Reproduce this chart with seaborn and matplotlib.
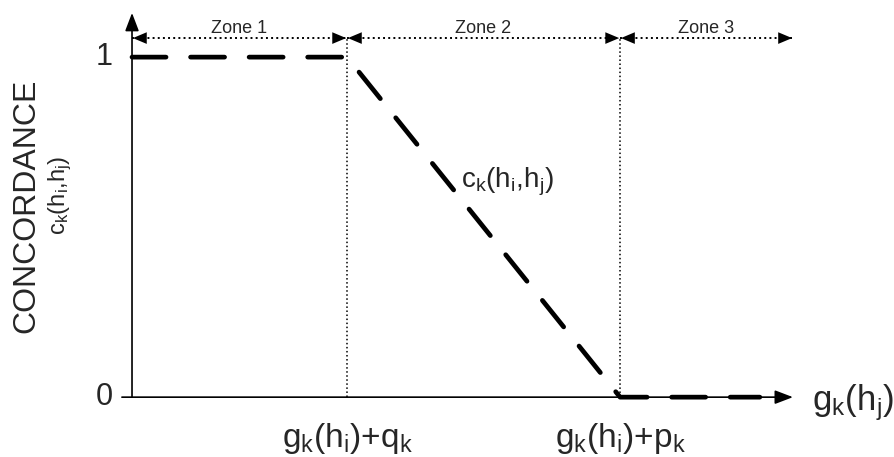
import matplotlib
matplotlib.use('Agg')
import matplotlib.pyplot as plt
import seaborn as sns
import pandas as pd

# concordance function c_k(h_i, h_j) (x in units of q_k)
q_k = 1.0
p_k = 2.27
x_end = 2.92
x_axis_end = 3.074
conc_x = [0.0, q_k, p_k, x_end]
conc_y = [1.0, 1.0, 0.0, 0.0]

zone_labels = ['Zone 1', 'Zone 2', 'Zone 3']
zone_edges = [0.0, q_k, p_k, x_axis_end]
x_ticks = [q_k, p_k]
x_tick_labels = [r'$\mathregular{g_k(h_i){+}q_k}$', r'$\mathregular{g_k(h_i){+}p_k}$']
y_ticks = [0, 1]


def main():
    sns.set_style('white')
    plt.rcParams['font.family'] = ['Liberation Sans', 'DejaVu Sans']
    plt.rcParams['mathtext.fontset'] = 'custom'
    plt.rcParams['mathtext.rm'] = 'Liberation Sans'
    plt.rcParams['mathtext.it'] = 'Liberation Sans'

    fig = plt.figure(figsize=(8.94, 4.57), dpi=100)
    ax = fig.add_axes([0, 0, 1, 1])
    ax.set_xlim(-0.614, 3.544)
    ax.set_ylim(-0.176, 1.168)
    ax.axis('off')

    head = '-|>,head_length=1.1,head_width=0.42'
    # axes with arrows
    ax.annotate('', xy=(x_axis_end, 0), xytext=(-0.047, 0),
                arrowprops=dict(arrowstyle=head, color='black', lw=1.2,
                                shrinkA=0, shrinkB=0))
    ax.annotate('', xy=(0, 1.13), xytext=(0, 0),
                arrowprops=dict(arrowstyle=head, color='black', lw=1.2,
                                shrinkA=0, shrinkB=0))

    # zone boundaries
    ax.vlines(x_ticks, 0, 1.056, colors='black', linestyles=':', lw=1.1)

    # zone arrows
    zy = 1.056
    for i, lab in enumerate(zone_labels):
        a, b = zone_edges[i], zone_edges[i + 1]
        ax.plot([a, b], [zy, zy], ls=':', color='black', lw=1.4)
        for tip, tail in [(a + 0.004, a + 0.09), (b - 0.004, b - 0.09)]:
            ax.annotate('', xy=(tip, zy), xytext=(tail, zy),
                        arrowprops=dict(arrowstyle='-|>,head_length=1.0,head_width=0.42',
                                        color='black', lw=0, shrinkA=0, shrinkB=0))
        ax.text((a + b) / 2, 1.071, lab, ha='center', va='baseline', fontsize=13)

    # concordance curve
    df = pd.DataFrame({'x': conc_x, 'y': conc_y})
    sns.lineplot(data=df, x='x', y='y', ax=ax, color='black', lw=3.4,
                 sort=False, estimator=None)
    line = ax.lines[-1]
    line.set_dashes((7.2, 5.2))
    line.set_dash_capstyle('round')

    # tick labels
    for v in y_ticks:
        ax.text(-0.088, v, str(v), ha='right', va='center', fontsize=22)
    for xv, lab in zip(x_ticks, x_tick_labels):
        ax.text(xv, -0.147, lab, ha='center', va='baseline', fontsize=24)
    ax.text(3.163, -0.038, r'$\mathregular{g_k(h_j)}$', ha='left', va='baseline',
            fontsize=25)

    # curve label and y label
    ax.text(1.744, 0.618, r'$\mathregular{c_k(h_i{,}h_j)}$', ha='center',
            va='baseline', fontsize=20)
    ax.text(-0.493, 0.562, 'CONCORDANCE', rotation=90, ha='center', va='center',
            fontsize=23)
    ax.text(-0.335, 0.594, r'$\mathregular{c_k(h_i{,}h_j)}$', rotation=90,
            ha='center', va='center', fontsize=17)

    fig.savefig('out.png', dpi=100)


if __name__ == '__main__':
    main()
